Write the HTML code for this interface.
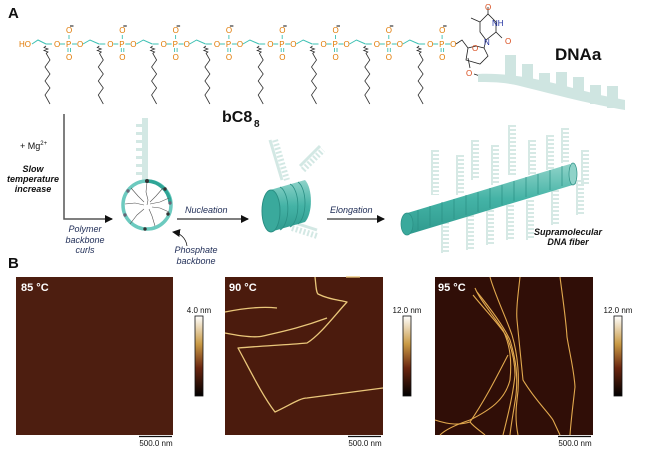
<!DOCTYPE html>
<html><head><meta charset="utf-8"><style>
html,body{margin:0;padding:0;background:#fff}
svg{display:block}
text{font-family:"Liberation Sans",sans-serif}
.o{fill:#e07800;font-size:8px}
.it{font-style:italic;fill:#1d2b55;font-size:9px}
.bi{font-style:italic;font-weight:bold;fill:#111;font-size:9px}
</style></head><body>
<svg width="646" height="452" viewBox="0 0 646 452" xmlns="http://www.w3.org/2000/svg">
<defs>
<linearGradient id="cb" x1="0" y1="0" x2="0" y2="1">
<stop offset="0" stop-color="#ffffff"/><stop offset="0.35" stop-color="#c99a45"/><stop offset="0.65" stop-color="#6a2610"/><stop offset="1" stop-color="#000"/>
</linearGradient>
<linearGradient id="cyl" x1="0" y1="0" x2="0" y2="1">
<stop offset="0" stop-color="#8fd3c9"/><stop offset="0.5" stop-color="#44b3a6"/><stop offset="1" stop-color="#2f9a8e"/>
</linearGradient>
<marker id="ar" markerWidth="8" markerHeight="8" refX="7" refY="4" orient="auto" markerUnits="userSpaceOnUse"><path d="M0,0 L8,4 L0,8z" fill="#111"/></marker>
</defs>

<text x="8" y="18" font-size="15" font-weight="bold" fill="#111">A</text>
<text x="8" y="268" font-size="15" font-weight="bold" fill="#111">B</text>

<text x="19" y="47" class="o">HO</text>
<path d="M32,44 L38,40 L46,44" stroke="#3cc0b3" fill="none" stroke-width="1"/>
<g>
<g transform="translate(0,0)">
<path d="M46,44 l6,0" stroke="#3cc0b3" fill="none"/>
<path d="M46,46 l-2,1.5 l4,1.5 l-4,1.5 l4,1.5 l-2,1.5 M46,53 L50,60 L45,67 L50,74 L45,81 L50,88 L45,95 L50,104" stroke="#333" stroke-width="0.8" fill="none"/>
<text x="54" y="47" class="o">O</text><text x="66" y="47" class="o">P</text><text x="77" y="47" class="o">O</text>
<text x="66" y="33" class="o">O</text><text x="66" y="60" class="o">O</text>
<path d="M70,26 h3.5" stroke="#111"/>
<path d="M60,44 h5 M72,44 h5 M69,35 v4 M68,48 v4 M70.5,48 v4" stroke="#3cc0b3" stroke-width="0.9"/>
<path d="M83,44 L90,40 L99,44" stroke="#3cc0b3" fill="none"/>
</g>
<g transform="translate(53.3,0)">
<path d="M46,44 l6,0" stroke="#3cc0b3" fill="none"/>
<path d="M46,46 l-2,1.5 l4,1.5 l-4,1.5 l4,1.5 l-2,1.5 M46,53 L50,60 L45,67 L50,74 L45,81 L50,88 L45,95 L50,104" stroke="#333" stroke-width="0.8" fill="none"/>
<text x="54" y="47" class="o">O</text><text x="66" y="47" class="o">P</text><text x="77" y="47" class="o">O</text>
<text x="66" y="33" class="o">O</text><text x="66" y="60" class="o">O</text>
<path d="M70,26 h3.5" stroke="#111"/>
<path d="M60,44 h5 M72,44 h5 M69,35 v4 M68,48 v4 M70.5,48 v4" stroke="#3cc0b3" stroke-width="0.9"/>
<path d="M83,44 L90,40 L99,44" stroke="#3cc0b3" fill="none"/>
</g>
<g transform="translate(106.6,0)">
<path d="M46,44 l6,0" stroke="#3cc0b3" fill="none"/>
<path d="M46,46 l-2,1.5 l4,1.5 l-4,1.5 l4,1.5 l-2,1.5 M46,53 L50,60 L45,67 L50,74 L45,81 L50,88 L45,95 L50,104" stroke="#333" stroke-width="0.8" fill="none"/>
<text x="54" y="47" class="o">O</text><text x="66" y="47" class="o">P</text><text x="77" y="47" class="o">O</text>
<text x="66" y="33" class="o">O</text><text x="66" y="60" class="o">O</text>
<path d="M70,26 h3.5" stroke="#111"/>
<path d="M60,44 h5 M72,44 h5 M69,35 v4 M68,48 v4 M70.5,48 v4" stroke="#3cc0b3" stroke-width="0.9"/>
<path d="M83,44 L90,40 L99,44" stroke="#3cc0b3" fill="none"/>
</g>
<g transform="translate(159.9,0)">
<path d="M46,44 l6,0" stroke="#3cc0b3" fill="none"/>
<path d="M46,46 l-2,1.5 l4,1.5 l-4,1.5 l4,1.5 l-2,1.5 M46,53 L50,60 L45,67 L50,74 L45,81 L50,88 L45,95 L50,104" stroke="#333" stroke-width="0.8" fill="none"/>
<text x="54" y="47" class="o">O</text><text x="66" y="47" class="o">P</text><text x="77" y="47" class="o">O</text>
<text x="66" y="33" class="o">O</text><text x="66" y="60" class="o">O</text>
<path d="M70,26 h3.5" stroke="#111"/>
<path d="M60,44 h5 M72,44 h5 M69,35 v4 M68,48 v4 M70.5,48 v4" stroke="#3cc0b3" stroke-width="0.9"/>
<path d="M83,44 L90,40 L99,44" stroke="#3cc0b3" fill="none"/>
</g>
<g transform="translate(213.2,0)">
<path d="M46,44 l6,0" stroke="#3cc0b3" fill="none"/>
<path d="M46,46 l-2,1.5 l4,1.5 l-4,1.5 l4,1.5 l-2,1.5 M46,53 L50,60 L45,67 L50,74 L45,81 L50,88 L45,95 L50,104" stroke="#333" stroke-width="0.8" fill="none"/>
<text x="54" y="47" class="o">O</text><text x="66" y="47" class="o">P</text><text x="77" y="47" class="o">O</text>
<text x="66" y="33" class="o">O</text><text x="66" y="60" class="o">O</text>
<path d="M70,26 h3.5" stroke="#111"/>
<path d="M60,44 h5 M72,44 h5 M69,35 v4 M68,48 v4 M70.5,48 v4" stroke="#3cc0b3" stroke-width="0.9"/>
<path d="M83,44 L90,40 L99,44" stroke="#3cc0b3" fill="none"/>
</g>
<g transform="translate(266.5,0)">
<path d="M46,44 l6,0" stroke="#3cc0b3" fill="none"/>
<path d="M46,46 l-2,1.5 l4,1.5 l-4,1.5 l4,1.5 l-2,1.5 M46,53 L50,60 L45,67 L50,74 L45,81 L50,88 L45,95 L50,104" stroke="#333" stroke-width="0.8" fill="none"/>
<text x="54" y="47" class="o">O</text><text x="66" y="47" class="o">P</text><text x="77" y="47" class="o">O</text>
<text x="66" y="33" class="o">O</text><text x="66" y="60" class="o">O</text>
<path d="M70,26 h3.5" stroke="#111"/>
<path d="M60,44 h5 M72,44 h5 M69,35 v4 M68,48 v4 M70.5,48 v4" stroke="#3cc0b3" stroke-width="0.9"/>
<path d="M83,44 L90,40 L99,44" stroke="#3cc0b3" fill="none"/>
</g>
<g transform="translate(319.8,0)">
<path d="M46,44 l6,0" stroke="#3cc0b3" fill="none"/>
<path d="M46,46 l-2,1.5 l4,1.5 l-4,1.5 l4,1.5 l-2,1.5 M46,53 L50,60 L45,67 L50,74 L45,81 L50,88 L45,95 L50,104" stroke="#333" stroke-width="0.8" fill="none"/>
<text x="54" y="47" class="o">O</text><text x="66" y="47" class="o">P</text><text x="77" y="47" class="o">O</text>
<text x="66" y="33" class="o">O</text><text x="66" y="60" class="o">O</text>
<path d="M70,26 h3.5" stroke="#111"/>
<path d="M60,44 h5 M72,44 h5 M69,35 v4 M68,48 v4 M70.5,48 v4" stroke="#3cc0b3" stroke-width="0.9"/>
<path d="M83,44 L90,40 L99,44" stroke="#3cc0b3" fill="none"/>
</g>
<g transform="translate(373.1,0)">
<path d="M46,44 l6,0" stroke="#3cc0b3" fill="none"/>
<path d="M46,46 l-2,1.5 l4,1.5 l-4,1.5 l4,1.5 l-2,1.5 M46,53 L50,60 L45,67 L50,74 L45,81 L50,88 L45,95 L50,104" stroke="#333" stroke-width="0.8" fill="none"/>
<text x="54" y="47" class="o">O</text><text x="66" y="47" class="o">P</text><text x="77" y="47" class="o">O</text>
<text x="66" y="33" class="o">O</text><text x="66" y="60" class="o">O</text>
<path d="M70,26 h3.5" stroke="#111"/>
<path d="M60,44 h5 M72,44 h5 M69,35 v4 M68,48 v4 M70.5,48 v4" stroke="#3cc0b3" stroke-width="0.9"/>
</g>
</g>
<g stroke="#222" stroke-width="0.8" fill="none">
<path d="M456,44 L462,40 L468,48"/>
<path d="M468,48 L466,60 L480,64 L488,56 L484,48 L476,46 Z"/>
<path d="M468,58 L470,68"/>
<path d="M484,48 L486,40"/>
<path d="M486,40 L480,32 L480,22 L488,14 L496,22 L496,32 Z"/>
<path d="M480,22 L471,18 M488,14 L488,7 M496,32 L502,38"/>
<path d="M474,74 L480,76"/>
</g>
<text x="472" y="51" class="o" style="fill:#d84a1a">O</text>
<text x="484" y="45" font-size="8" fill="#2030a0">N</text>
<text x="492" y="26" font-size="8" fill="#2030a0">NH</text>
<text x="485" y="10" font-size="8" fill="#d84a1a">O</text>
<text x="505" y="44" font-size="8" fill="#d84a1a">O</text>
<text x="466" y="76" font-size="8" fill="#d84a1a">O</text>

<text x="555" y="60" font-size="17" font-weight="bold" fill="#111">DNAa</text>
<g fill="#cfe5e1">
<path d="M478,74 C520,72 560,85 600,95 L625,100 L625,110 C590,104 560,96 520,86 C505,82 490,82 478,82Z"/>
<rect x="505" y="55" width="11" height="28"/><rect x="522" y="64" width="11" height="22"/><rect x="539" y="73" width="11" height="17"/><rect x="556" y="72" width="11" height="22"/><rect x="573" y="77" width="11" height="22"/><rect x="590" y="85" width="11" height="19"/><rect x="607" y="86" width="11" height="22"/>
</g>

<text x="222" y="122" font-size="16" font-weight="bold" fill="#111">bC8</text><text x="254" y="127" font-size="10" font-weight="bold" fill="#111">8</text>

<path d="M64,114 V219 H112" stroke="#555" stroke-width="1.5" fill="none" marker-end="url(#ar)"/>
<text x="20" y="149" font-size="9" fill="#111">+ Mg<tspan font-size="6" dy="-4">2+</tspan></text>
<text x="33" y="172" class="bi" text-anchor="middle">Slow</text>
<text x="33" y="182" class="bi" text-anchor="middle">temperature</text>
<text x="33" y="192" class="bi" text-anchor="middle">increase</text>
<text x="85" y="232" class="it" text-anchor="middle">Polymer</text>
<text x="85" y="243" class="it" text-anchor="middle">backbone</text>
<text x="85" y="253" class="it" text-anchor="middle">curls</text>

<g fill="#d3e8e4">
<path d="M142,118 h6 v62 h-6z"/>
<rect x="136" y="124" width="10" height="3"/><rect x="136" y="132" width="10" height="3"/><rect x="136" y="140" width="10" height="3"/><rect x="136" y="148" width="10" height="3"/><rect x="136" y="156" width="10" height="3"/><rect x="136" y="164" width="10" height="3"/><rect x="136" y="172" width="10" height="3"/>
</g>
<circle cx="147" cy="205" r="24" fill="#fff" stroke="#6ccabf" stroke-width="3.5"/>
<path d="M147,181 A24,24 0 0 1 170,202" stroke="#2ea596" stroke-width="3.5" fill="none"/>
<g stroke="#555" stroke-width="0.6" fill="none">
<path d="M147,182 L146,192 L148,200 L147,205 M163,188 L156,196 L150,202 M169,212 L160,208 L152,207 M155,226 L152,216 L149,209 M130,224 L137,215 L144,209 M125,204 L135,203 L144,205 M131,188 L138,196 L144,202 M169,198 L160,202 L150,204"/>
</g>
<g fill="#333"><circle cx="147" cy="181" r="2"/><circle cx="165" cy="189" r="1.7"/><circle cx="168" cy="214" r="1.7"/><circle cx="145" cy="229" r="1.7"/><circle cx="125" cy="215" r="1.7" fill="#667"/><circle cx="128" cy="191" r="1.7" fill="#667"/><circle cx="170" cy="203" r="1.7" fill="#667"/></g>
<path d="M187,246 C186,238 180,233 173,232" stroke="#111" stroke-width="0.8" fill="none" marker-end="url(#ar)"/>
<text x="196" y="253" class="it" text-anchor="middle">Phosphate</text>
<text x="196" y="264" class="it" text-anchor="middle">backbone</text>

<path d="M177,219 H248" stroke="#555" stroke-width="1.5" marker-end="url(#ar)"/>
<text x="185" y="213" class="it">Nucleation</text>
<path d="M327,219 H384" stroke="#555" stroke-width="1.5" marker-end="url(#ar)"/>
<text x="330" y="213" class="it">Elongation</text>

<g stroke="#d3e8e4" fill="none">
<path d="M270,140 l12,40 M300,166 l20,-20 M292,222 l25,8" stroke-width="3"/>
<path d="M275,140 l12,40 M303,170 l20,-20 M292,228 l25,8" stroke-width="6" stroke-dasharray="2 2"/>
</g>
<path d="M270,190 L305,180 A10,23 0 0 1 305,222 L270,232 Z" fill="url(#cyl)"/>
<g stroke="#2a8f84" stroke-width="0.8" fill="none"><path d="M280,187 A10,22 0 0 1 280,230 M290,184 A10,22 0 0 1 290,227 M298,182 A10,22 0 0 1 298,224"/></g>
<ellipse cx="271" cy="211" rx="9" ry="21" fill="#3aa99c" stroke="#2a8f84"/>

<g stroke="#d6e9e5" fill="none">
<path d="M432,150 v45 M457,155 v40 M472,140 v40 M492,145 v40 M509,125 v50 M529,140 v35 M547,135 v35 M562,128 v35 M582,150 v35 M442,218 v35 M467,215 v35 M487,210 v35 M507,205 v35 M527,200 v40 M552,190 v35 M577,180 v35" stroke-width="2"/>
<path d="M436,150 v45 M461,155 v40 M476,140 v40 M496,145 v40 M513,125 v50 M533,140 v35 M551,135 v35 M566,128 v35 M586,150 v35 M446,218 v35 M471,215 v35 M491,210 v35 M511,205 v35 M531,200 v40 M556,190 v35 M581,180 v35" stroke-width="6" stroke-dasharray="2 2"/>
</g>
<path d="M404,214 L570,164 L576,184 L410,234 Z" fill="url(#cyl)"/>
<g stroke="#2a8f84" stroke-width="0.7" fill="none">
<path d="M418,210 v20 M430,206 v20 M442,202 v20 M454,199 v20 M466,195 v20 M478,192 v20 M490,188 v20 M502,185 v20 M514,181 v20 M526,177 v20 M538,174 v20 M550,170 v20 M562,166 v20"/></g>
<ellipse cx="573" cy="174" rx="4" ry="11" fill="#8fd3c9" stroke="#2a8f84" stroke-width="0.7"/>
<ellipse cx="407" cy="224" rx="6" ry="11" fill="#3aa99c" stroke="#2a8f84" stroke-width="0.7"/>
<text x="568" y="235" class="bi" text-anchor="middle">Supramolecular</text>
<text x="568" y="245" class="bi" text-anchor="middle">DNA fiber</text>

<rect x="16" y="277" width="157" height="158" fill="#4d1e10"/>
<rect x="225" y="277" width="158" height="158" fill="#4b1b0d"/>
<rect x="435" y="277" width="158" height="158" fill="#300e07"/>
<text x="21" y="291" font-size="11" font-weight="bold" fill="#fff">85 °C</text>
<text x="229" y="291" font-size="11" font-weight="bold" fill="#fff">90 °C</text>
<text x="438" y="291" font-size="11" font-weight="bold" fill="#fff">95 °C</text>
<g stroke="#eac77a" stroke-width="1.3" fill="none" stroke-linejoin="round">
<path d="M225,312 C240,309 260,306 277,308"/>
<path d="M225,333 C240,336 255,338 263,336 C280,332 300,328 327,318"/>
<path d="M315,277 C316,285 316,292 318,294 C330,300 340,300 347,302 C335,315 320,335 307,343 C285,345 260,346 238,348 C250,370 262,395 275,412 C290,405 300,398 307,398 C330,395 360,391 383,388"/>
<path d="M346,277 L360,277"/>
</g>
<g stroke="#e2a94e" stroke-width="1.1" fill="none">
<path d="M473,295 C485,310 500,325 507,337 C513,352 515,365 515,375 C513,395 508,415 503,435"/>
<path d="M477,292 C490,308 503,325 510,340 C516,360 518,375 516,395 C513,415 511,425 510,435"/>
<path d="M475,288 C480,300 493,315 503,330 C510,345 512,360 510,380 C505,400 490,410 470,420 C455,425 445,430 440,435"/>
<path d="M490,277 C495,295 505,315 512,335 C518,355 520,380 517,400 C515,415 516,425 518,435"/>
<path d="M520,277 C518,295 516,310 517,320 C520,350 522,370 523,380 C535,400 548,412 553,420 L560,435"/>
<path d="M560,277 C563,300 566,320 567,337 C570,355 574,370 575,387 C573,405 571,420 570,435"/>
<path d="M435,420 C450,425 460,425 470,422 C485,400 495,380 508,355"/>
<path d="M470,422 C475,428 482,432 485,435"/>
</g>
<rect x="195" y="316" width="8" height="80" fill="url(#cb)" stroke="#111" stroke-width="0.8"/>
<rect x="403" y="316" width="8" height="80" fill="url(#cb)" stroke="#111" stroke-width="0.8"/>
<rect x="614" y="316" width="8" height="80" fill="url(#cb)" stroke="#111" stroke-width="0.8"/>
<text x="199" y="313" font-size="8" fill="#111" text-anchor="middle">4.0 nm</text>
<text x="407" y="313" font-size="8" fill="#111" text-anchor="middle">12.0 nm</text>
<text x="618" y="313" font-size="8" fill="#111" text-anchor="middle">12.0 nm</text>
<g stroke="#111" stroke-width="1.2"><path d="M139,436.5 H172 M348,436.5 H381 M558,436.5 H591"/></g>
<text x="156" y="446" font-size="8" fill="#111" text-anchor="middle">500.0 nm</text>
<text x="365" y="446" font-size="8" fill="#111" text-anchor="middle">500.0 nm</text>
<text x="575" y="446" font-size="8" fill="#111" text-anchor="middle">500.0 nm</text>
</svg>
</body></html>
